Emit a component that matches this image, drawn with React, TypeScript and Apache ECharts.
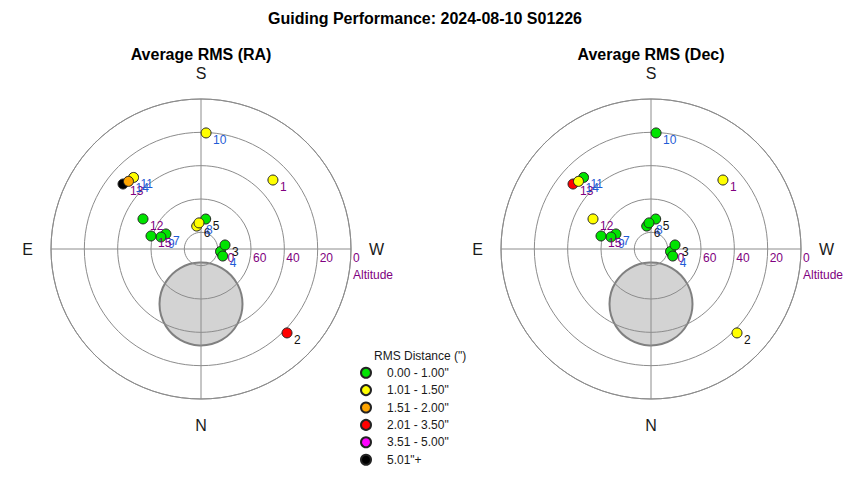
import React, { useEffect, useRef } from "react";
import * as echarts from "echarts";

// ---- data ----
const frameIds = ["0", "1", "2", "3", "4", "5", "6", "7", "8", "9", "10", "11", "12", "13", "14", "15"];
const azimuthDeg = [277.3, 226.2, 314.3, 260.5, 287.9, 188.9, 169.4, 113.2, 175.6, 106.7, 182.5, 136.7, 117.4, 129.8, 133.0, 104.6];
const altitudeDeg = [78.2, 30.2, 17.9, 75.4, 76.3, 71.8, 76.0, 67.1, 74.3, 64.9, 20.3, 31.0, 50.8, 29.1, 30.5, 59.0];
const rmsRA = [0.75, 1.25, 2.6, 0.8, 0.7, 0.85, 1.1, 0.9, 1.05, 0.8, 1.2, 1.3, 0.95, 5.4, 1.7, 0.9];
const rmsDec = [0.6, 1.3, 1.4, 0.7, 0.65, 0.8, 0.9, 0.75, 0.95, 0.7, 0.9, 0.85, 1.15, 2.3, 1.2, 0.8];
const labelTone = ["purple", "purple", "black", "black", "blue", "black", "black", "blue", "blue", "blue", "blue", "blue", "purple", "purple", "blue", "purple"];
const moonAzimuth = 0;
const moonAltitude = 57;
const altitudeTickLabels = [0, 20, 40, 60];
const directionLabels: Record<string, string> = { "-90": "W", "0": "N", "90": "E", "180": "S" };
const binUpper = [1.0, 1.5, 2.0, 3.5, 5.0, Infinity];
const binLabels = ['0.00 - 1.00"', '1.01 - 1.50"', '1.51 - 2.00"', '2.01 - 3.50"', '3.51 - 5.00"', '5.01"+'];
const binColors = ["#00e400", "#ffff00", "#ffa500", "#ff0000", "#ff00ff", "#000000"];
const chartTitle = "Guiding Performance: 2024-08-10 S01226";
const panelTitles = ["Average RMS (RA)", "Average RMS (Dec)"];
const legendTitle = 'RMS Distance (")';

const FONT = "'Liberation Sans', Arial, sans-serif";
const toneColors: Record<string, string> = { purple: "#800080", blue: "#1f5bd6", black: "#111111" };
const GRID = "#8c8c8c";

function binColor(v: number): string {
  for (let i = 0; i < binUpper.length; i++) if (v <= binUpper[i]) return binColors[i];
  return binColors[binColors.length - 1];
}
function toAngle(az: number): number {
  return az > 270 ? az - 360 : az;
}

export default function App() {
  const ref = useRef<HTMLDivElement>(null);
  useEffect(() => {
    document.body.style.margin = "0";
    const chart = echarts.init(ref.current!, undefined, { renderer: "svg" });
    const centers = [
      [201, 249],
      [651, 249],
    ];
    const polar = centers.map((c) => ({ center: c, radius: 150 }));
    const angleAxis = centers.map((_, i) => ({
      polarIndex: i,
      type: "value",
      min: -90,
      max: 270,
      interval: 90,
      startAngle: 0,
      clockwise: true,
      axisLine: { lineStyle: { color: GRID, width: 1 } },
      axisTick: { show: false },
      splitLine: { show: true, lineStyle: { color: GRID, width: 1 } },
      axisLabel: {
        margin: 18,
        fontSize: 16,
        color: "#1a1a1a",
        fontFamily: FONT,
        formatter: (v: number) => directionLabels[String(v)] ?? "",
      },
    }));
    const radiusAxis = centers.map((_, i) => ({
      polarIndex: i,
      type: "value",
      min: 0,
      max: 90,
      interval: 20,
      inverse: true,
      axisLine: { show: false },
      axisTick: { show: false },
      splitLine: { show: true, lineStyle: { color: GRID, width: 1 } },
      axisLabel: {
        margin: 0,
        align: "left",
        verticalAlign: "top",
        padding: [0, 0, 0, 2],
        fontSize: 12,
        lineHeight: 17,
        color: "#800080",
        fontFamily: FONT,
        formatter: (v: number) =>
          altitudeTickLabels.includes(v) ? (v === 0 ? "0\nAltitude" : String(v)) : "",
      },
    }));

    const makePoints = (rms: number[]) =>
      frameIds.map((id, k) => ({
        name: id,
        value: [altitudeDeg[k], toAngle(azimuthDeg[k]), rms[k]],
        itemStyle: { color: binColor(rms[k]) },
        label: { color: toneColors[labelTone[k]] },
      }));

    const series: any[] = [];
    [rmsRA, rmsDec].forEach((rms, i) => {
      series.push({
        type: "scatter",
        coordinateSystem: "polar",
        polarIndex: i,
        silent: true,
        z: -1,
        symbol: "circle",
        symbolSize: 83,
        itemStyle: { color: "#d3d3d3", borderColor: "#808080", borderWidth: 2, opacity: 1 },
        data: [[moonAltitude, toAngle(moonAzimuth)]],
      });
      series.push({
        type: "scatter",
        name: panelTitles[i],
        coordinateSystem: "polar",
        polarIndex: i,
        symbol: "circle",
        symbolSize: 10,
        itemStyle: { borderColor: "#222", borderWidth: 1, opacity: 1 },
        label: {
          show: true,
          position: "right",
          distance: 0,
          offset: [1.5, 7],
          fontSize: 12,
          fontFamily: FONT,
          formatter: (p: any) => p.name,
        },
        data: makePoints(rms),
      });
    });
    binLabels.forEach((name, b) => {
      series.push({
        type: "scatter",
        name,
        coordinateSystem: "polar",
        polarIndex: 0,
        symbol: "circle",
        itemStyle: { color: binColors[b], borderColor: "#222", borderWidth: 1, opacity: 1 },
        data: [],
      });
    });

    chart.setOption({
      animation: false,
      backgroundColor: "#ffffff",
      textStyle: { fontFamily: FONT },
      polar,
      angleAxis,
      radiusAxis,
      legend: {
        orient: "vertical",
        left: 360,
        top: 364,
        padding: 0,
        itemGap: 0,
        itemWidth: 32,
        itemHeight: 10,
        icon: "circle",
        selectedMode: false,
        data: binLabels,
        itemStyle: { opacity: 1 },
        textStyle: { fontSize: 12, lineHeight: 17.4, color: "#1a1a1a", fontFamily: FONT },
      },
      graphic: [
        {
          type: "text",
          x: 425,
          y: 18,
          style: { text: chartTitle, font: `bold 16px ${FONT}`, fill: "#000", align: "center", verticalAlign: "middle" },
        },
        ...panelTitles.map((t, i) => ({
          type: "text",
          x: centers[i][0],
          y: 54,
          style: { text: t, font: `bold 16px ${FONT}`, fill: "#000", align: "center", verticalAlign: "middle" },
        })),
        {
          type: "text",
          x: 374,
          y: 356,
          style: { text: legendTitle, font: `12px ${FONT}`, fill: "#1a1a1a", align: "left", verticalAlign: "middle" },
        },
      ],
      series,
    });
    return () => chart.dispose();
  }, []);
  return <div ref={ref} style={{ width: 850, height: 480 }} />;
}
